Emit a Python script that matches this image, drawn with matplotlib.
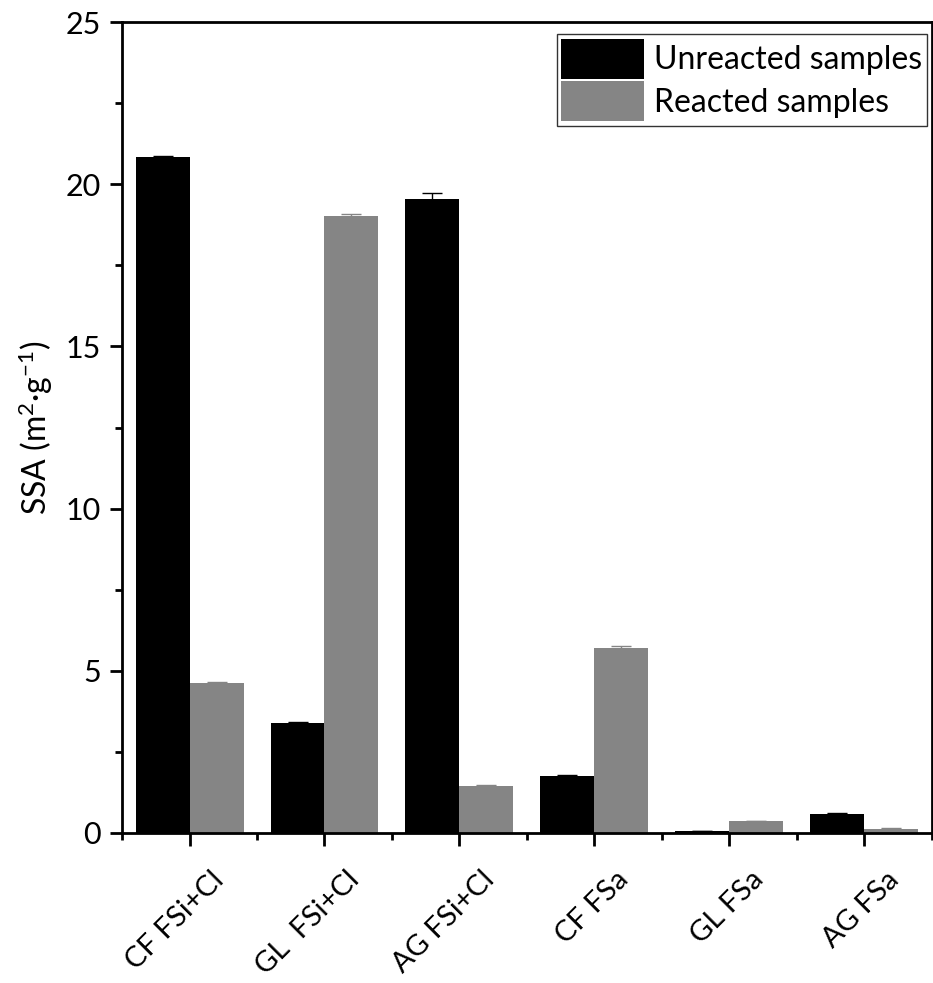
import matplotlib
matplotlib.use("Agg")
import matplotlib.pyplot as plt
from matplotlib.ticker import MultipleLocator
from matplotlib.transforms import ScaledTranslation
import numpy as np

plt.rcParams['font.family'] = ['Lato', 'DejaVu Sans']
plt.rcParams['axes.unicode_minus'] = False
plt.rcParams['mathtext.fontset'] = 'custom'
plt.rcParams['mathtext.rm'] = 'Lato'
plt.rcParams['mathtext.it'] = 'Lato'
plt.rcParams['mathtext.default'] = 'regular'

categories = ["CF FSi+Cl", "GL  FSi+Cl", "AG FSi+Cl", "CF FSa", "GL FSa", "AG FSa"]
unreacted = [20.84, 3.40, 19.55, 1.76, 0.06, 0.60]
unreacted_err = [0.03, 0.02, 0.18, 0.03, 0.01, 0.01]
reacted = [4.61, 19.02, 1.46, 5.70, 0.37, 0.13]
reacted_err = [0.05, 0.07, 0.01, 0.07, 0.01, 0.02]

fig = plt.figure(figsize=(9.33, 9.83), dpi=100)
ax = fig.add_axes([0.1308, 0.1526, 0.868, 0.825])

x = np.arange(len(categories))
w = 0.4
ax.bar(x - w/2, unreacted, w, color='black', label='Unreacted samples',
       yerr=unreacted_err, error_kw=dict(ecolor='black', capsize=7, elinewidth=1, capthick=1))
ax.bar(x + w/2, reacted, w, color='#858585', label='Reacted samples',
       yerr=reacted_err, error_kw=dict(ecolor='#858585', capsize=7, elinewidth=1, capthick=1))

ax.set_xlim(-0.5, len(categories) - 0.5)
ax.set_ylim(0, 25)
ax.yaxis.set_major_locator(MultipleLocator(5))
ax.yaxis.set_minor_locator(MultipleLocator(2.5))
ax.set_xticks(x)
ax.set_xticks(np.arange(-0.5, len(categories), 1.0), minor=True)
ax.tick_params(axis='y', labelsize=22, pad=6)
ax.tick_params(which='major', direction='out', length=9, width=2)
ax.tick_params(which='minor', direction='out', length=5, width=2)
ax.tick_params(axis='x', which='major', pad=10)
ax.set_xticklabels(categories, rotation=45, ha='right', rotation_mode='anchor', fontsize=21)
offset = ScaledTranslation(0.21, -0.07, fig.dpi_scale_trans)
for tick in ax.xaxis.get_major_ticks():
    tick.label1.set_transform(tick.label1.get_transform() + offset)
for s in ax.spines.values():
    s.set_linewidth(2)

ax.set_ylabel("SSA (m$^{2}$·g$^{-1}$)", fontsize=23, labelpad=8)

leg = ax.legend(loc='upper right', bbox_to_anchor=(0.9938, 0.9852), fontsize=23,
                frameon=True, fancybox=False,
                edgecolor='black', handlelength=2.6, handleheight=1.55,
                handletextpad=0.3, labelspacing=0.08, borderpad=0.15,
                borderaxespad=0.0)
leg.get_frame().set_linewidth(1)

fig.savefig("out.png", dpi=100)
